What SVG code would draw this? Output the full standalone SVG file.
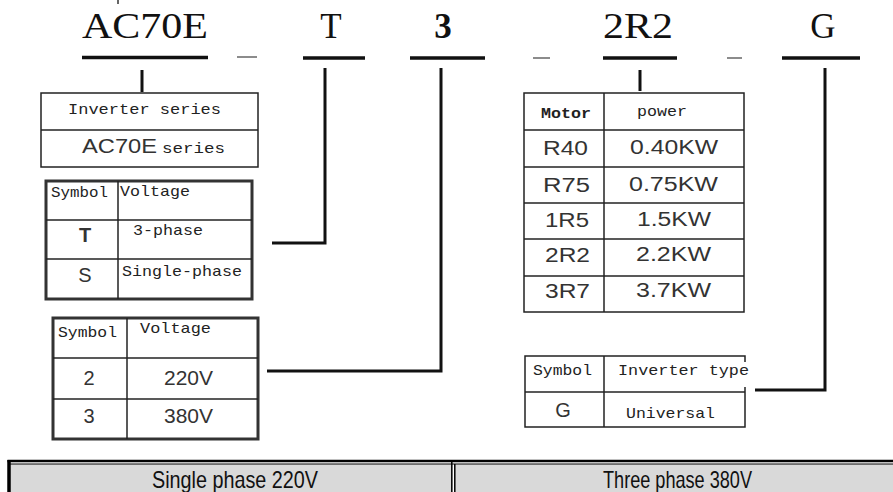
<svg xmlns="http://www.w3.org/2000/svg" width="893" height="492" viewBox="0 0 893 492">
<style>
.code{font-family:"Liberation Serif","Times New Roman",serif;font-size:35px;fill:#111}
.ul{stroke:#111;stroke-width:3.5;fill:none}
.dash{stroke:#666;stroke-width:1.5}
.mono{font-family:"Liberation Mono","DejaVu Sans Mono",monospace;font-size:15px;fill:#222}
.sans{font-family:"Liberation Sans",Arial,sans-serif;font-size:20px;fill:#333}
.thin{stroke:#222;stroke-width:1.5;fill:none}
.thick{stroke:#333;stroke-width:3;fill:none}
.conn{stroke:#111;stroke-width:3;fill:none}
.bar{font-family:"Liberation Sans Narrow","Liberation Sans",Arial,sans-serif;font-size:24px;fill:#111}
</style>
<rect width="893" height="492" fill="#fff"/>
<line x1="118" y1="0" x2="118" y2="4" stroke="#333" stroke-width="1.5"/>

<g id="code-series">
<text class="code" x="82" y="38" textLength="126" lengthAdjust="spacingAndGlyphs">AC70E</text>
<line class="ul" x1="82" y1="57.5" x2="208" y2="57.5" stroke-width="4"/>
</g>
<line class="dash" x1="237" y1="57" x2="257" y2="57"/>
<g id="code-phase">
<text class="code" x="331" y="38" text-anchor="middle">T</text>
<line class="ul" x1="303" y1="58" x2="365" y2="58"/>
</g>
<g id="code-voltage">
<text class="code" x="443" y="38" text-anchor="middle" font-weight="bold">3</text>
<line class="ul" x1="410" y1="58" x2="485" y2="58"/>
</g>
<line class="dash" x1="533" y1="58" x2="550" y2="58"/>
<g id="code-power">
<text class="code" x="603" y="38" textLength="70" lengthAdjust="spacingAndGlyphs">2R2</text>
<line class="ul" x1="603" y1="58" x2="677" y2="58"/>
</g>
<line class="dash" x1="727" y1="58" x2="742" y2="58"/>
<g id="code-type">
<text class="code" x="823" y="38" text-anchor="middle">G</text>
<line class="ul" x1="782" y1="58" x2="860" y2="58" stroke-width="4"/>
</g>

<g id="connectors">
<line class="conn" x1="142" y1="70" x2="142" y2="92" stroke-width="4"/>
<line class="conn" x1="640" y1="70" x2="640" y2="91" stroke-width="4"/>
<polyline class="conn" points="325,68 325,243 272,243"/>
<polyline class="conn" points="441,68 441,371 267,371"/>
<polyline class="conn" points="825,68 825,390 755,390"/>
</g>

<g id="table-series">
<rect class="thin" x="41" y="93" width="217" height="74"/>
<line class="thin" x1="41" y1="130" x2="258" y2="130"/>
<text class="mono" x="68" y="114" textLength="153" lengthAdjust="spacingAndGlyphs">Inverter series</text>
<text class="sans" x="82" y="153" textLength="75" lengthAdjust="spacingAndGlyphs" font-size="21">AC70E</text>
<text class="mono" x="162" y="153" textLength="63" lengthAdjust="spacingAndGlyphs">series</text>
</g>

<g id="table-phase">
<rect class="thick" x="46" y="181" width="206" height="118"/>
<line class="thin" x1="118" y1="181" x2="118" y2="299" stroke-width="2"/>
<line class="thin" x1="46" y1="220" x2="252" y2="220" stroke-width="2"/>
<line class="thin" x1="46" y1="259" x2="252" y2="259" stroke-width="2"/>
<text class="mono" x="51" y="197" textLength="57" lengthAdjust="spacingAndGlyphs">Symbol</text>
<text class="mono" x="120" y="196" textLength="70" lengthAdjust="spacingAndGlyphs">Voltage</text>
<text class="sans" x="85" y="242" text-anchor="middle" font-size="17" font-weight="bold">T</text>
<text class="mono" x="133" y="235" textLength="70" lengthAdjust="spacingAndGlyphs">3-phase</text>
<text class="sans" x="85" y="282" text-anchor="middle" font-size="20">S</text>
<text class="mono" x="122" y="276" textLength="120" lengthAdjust="spacingAndGlyphs">Single-phase</text>
</g>

<g id="table-voltage">
<rect class="thick" x="53" y="318" width="205" height="121"/>
<line class="thin" x1="127" y1="318" x2="127" y2="439" stroke-width="2"/>
<line class="thin" x1="53" y1="358" x2="258" y2="358" stroke-width="2"/>
<line class="thin" x1="53" y1="399" x2="258" y2="399" stroke-width="2"/>
<text class="mono" x="58" y="337" textLength="59" lengthAdjust="spacingAndGlyphs">Symbol</text>
<text class="mono" x="140" y="333" textLength="71" lengthAdjust="spacingAndGlyphs">Voltage</text>
<text class="sans" x="89" y="385" text-anchor="middle" font-size="17">2</text>
<text class="sans" x="164" y="385" font-size="17" textLength="49" lengthAdjust="spacingAndGlyphs">220V</text>
<text class="sans" x="89" y="423" text-anchor="middle" font-size="17">3</text>
<text class="sans" x="164" y="423" font-size="17" textLength="49" lengthAdjust="spacingAndGlyphs">380V</text>
</g>

<g id="table-power">
<rect class="thin" x="524" y="93" width="220" height="219"/>
<line class="thin" x1="604" y1="93" x2="604" y2="312"/>
<line class="thin" x1="524" y1="130" x2="744" y2="130"/>
<line class="thin" x1="524" y1="167" x2="744" y2="167"/>
<line class="thin" x1="524" y1="203" x2="744" y2="203"/>
<line class="thin" x1="524" y1="239" x2="744" y2="239"/>
<line class="thin" x1="524" y1="276" x2="744" y2="276"/>
<text class="mono" x="541" y="118" textLength="50" lengthAdjust="spacingAndGlyphs" font-weight="bold">Motor</text>
<text class="mono" x="637" y="116" textLength="50" lengthAdjust="spacingAndGlyphs">power</text>
<text class="sans" x="543" y="155" textLength="45" lengthAdjust="spacingAndGlyphs">R40</text>
<text class="sans" x="630" y="154" textLength="88" lengthAdjust="spacingAndGlyphs">0.40KW</text>
<text class="sans" x="543" y="192" textLength="47" lengthAdjust="spacingAndGlyphs">R75</text>
<text class="sans" x="629" y="191" textLength="89" lengthAdjust="spacingAndGlyphs">0.75KW</text>
<text class="sans" x="545" y="227" textLength="44" lengthAdjust="spacingAndGlyphs">1R5</text>
<text class="sans" x="637" y="226" textLength="74" lengthAdjust="spacingAndGlyphs">1.5KW</text>
<text class="sans" x="545" y="262" textLength="45" lengthAdjust="spacingAndGlyphs">2R2</text>
<text class="sans" x="636" y="261" textLength="75" lengthAdjust="spacingAndGlyphs">2.2KW</text>
<text class="sans" x="545" y="298" textLength="45" lengthAdjust="spacingAndGlyphs">3R7</text>
<text class="sans" x="636" y="297" textLength="75" lengthAdjust="spacingAndGlyphs">3.7KW</text>
</g>

<g id="table-type">
<polyline class="thin" points="745,362 745,356 525,356 525,427 745,427 745,387"/>
<line class="thin" x1="604" y1="356" x2="604" y2="427"/>
<line class="thin" x1="525" y1="392" x2="745" y2="392"/>
<text class="mono" x="533" y="375" textLength="59" lengthAdjust="spacingAndGlyphs">Symbol</text>
<text class="mono" x="618" y="375" textLength="131" lengthAdjust="spacingAndGlyphs">Inverter type</text>
<text class="sans" x="563" y="417" text-anchor="middle" font-size="19">G</text>
<text class="mono" x="626" y="418" textLength="89" lengthAdjust="spacingAndGlyphs">Universal</text>
</g>

<g id="bottom-bar">
<rect x="9" y="464" width="884" height="28" fill="#d9d9d9"/>
<rect x="452.5" y="464" width="2" height="28" fill="#fff"/>
<line x1="7.5" y1="461" x2="893" y2="461" stroke="#000" stroke-width="2.5"/>
<line x1="9" y1="464" x2="893" y2="464" stroke="#000" stroke-width="1"/>
<line x1="9" y1="460" x2="9" y2="492" stroke="#000" stroke-width="3.5"/>
<line x1="451.8" y1="462" x2="451.8" y2="492" stroke="#000" stroke-width="1.5"/>
<line x1="454.8" y1="464" x2="454.8" y2="492" stroke="#000" stroke-width="1.5"/>
<text class="bar" x="152" y="488" textLength="166" lengthAdjust="spacingAndGlyphs">Single phase 220V</text>
<text class="bar" x="603" y="488" textLength="149" lengthAdjust="spacingAndGlyphs">Three phase 380V</text>
</g>
</svg>
